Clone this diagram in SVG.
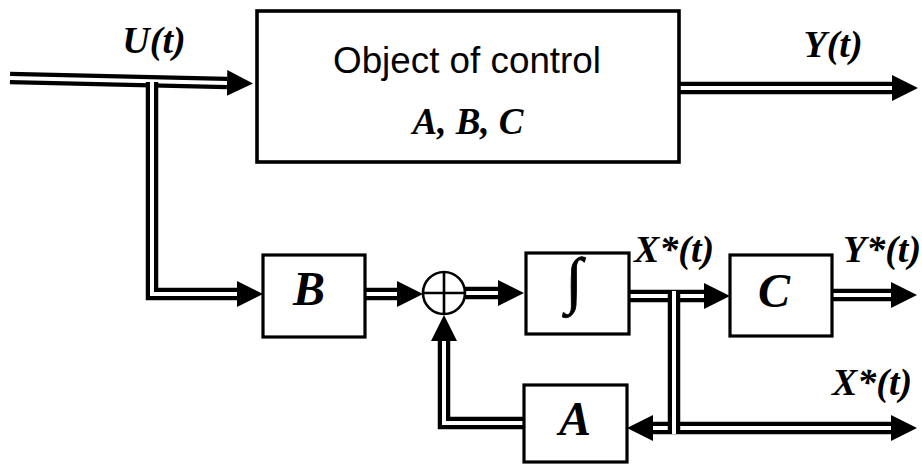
<svg xmlns="http://www.w3.org/2000/svg" width="922" height="468" viewBox="0 0 922 468">
<style>
.box{fill:#fff;stroke:#000;stroke-width:3.2}
.bigbox{fill:#fff;stroke:#000;stroke-width:3.6}
.o{fill:none;stroke:#000;stroke-width:12.5;stroke-linejoin:miter}
.i{fill:none;stroke:#fff;stroke-width:4;stroke-linejoin:miter}
.ae{marker-end:url(#ah)}
.as{marker-start:url(#ah)}
.m{font-family:"Liberation Serif","Times New Roman",serif;font-style:italic;font-weight:bold;fill:#000}
.lbl{font-size:38px}
.blk{font-size:48px;text-anchor:middle}
.sans{font-family:"Liberation Sans",Arial,sans-serif;fill:#000}
</style>
<defs>
<marker id="ah" markerUnits="userSpaceOnUse" markerWidth="26" markerHeight="26" refX="0" refY="13" orient="auto-start-reverse" viewBox="0 0 26 26">
<path d="M0,0 L26,13 L0,26 z" fill="#000"/>
</marker>
</defs>

<g id="connectors">
<g id="c-input"><path class="o ae" d="M10,78 L227,83"/><path class="i" d="M10,78 L227,83"/></g>
<g id="c-branch-b"><path class="o ae" d="M152,82 V294 H237"/><path class="i" d="M152,82 V294 H237"/></g>
<g id="c-y"><path class="o ae" d="M679,88 H892"/><path class="i" d="M679,88 H892"/></g>
<g id="c-b-sum"><path class="o ae" d="M365,294 H397"/><path class="i" d="M365,294 H397"/></g>
<g id="c-sum-int"><path class="o ae" d="M465,293 H498"/><path class="i" d="M465,293 H498"/></g>
<g id="c-int-c"><path class="o ae" d="M629,296 H704"/><path class="i" d="M629,296 H704"/></g>
<g id="c-c-out"><path class="o ae" d="M828,295 H891"/><path class="i" d="M828,295 H891"/></g>
<g id="c-xbus"><path class="o as ae" d="M653,428 H891"/><path class="i" d="M653,428 H891"/></g>
<g id="c-xbranch"><path class="o" d="M674,291 V434"/><path class="i" d="M674,291 V434"/></g>
<g id="c-feedback"><path class="o ae" d="M524,423 H444 V341"/><path class="i" d="M524,423 H444 V341"/></g>
</g>

<g id="object">
<rect class="bigbox" x="257" y="11" width="422" height="151"/>
<text class="sans" x="467" y="73" font-size="36" text-anchor="middle" textLength="268" lengthAdjust="spacingAndGlyphs">Object of control</text>
<text class="m" x="468" y="134" font-size="37" text-anchor="middle">A, B, C</text>
</g>

<g id="block-b">
<rect class="box" x="263" y="255" width="102" height="82"/>
<text class="m blk" x="309" y="305">B</text>
</g>

<g id="sum">
<circle cx="444" cy="293" r="21" fill="#fff" stroke="#000" stroke-width="2.6"/>
<path d="M423,293 H465 M444,272 V314" stroke="#000" stroke-width="2.6"/>
</g>

<g id="integrator">
<rect class="box" x="526" y="253" width="103" height="81"/>
<text x="574" y="301" font-family="Liberation Serif,serif" font-size="62" text-anchor="middle" stroke="#000" stroke-width="0.8">∫</text>
</g>

<g id="block-c">
<rect class="box" x="730" y="255" width="102" height="81"/>
<text class="m blk" x="774" y="307">C</text>
</g>

<g id="block-a">
<rect class="box" x="524" y="385" width="103" height="77"/>
<text class="m blk" x="575" y="435">A</text>
</g>

<g id="labels">
<text class="m lbl" x="154" y="53" text-anchor="middle">U(t)</text>
<text class="m lbl" x="833" y="57" text-anchor="middle">Y(t)</text>
<text class="m lbl" x="674" y="262" text-anchor="middle">X*(t)</text>
<text class="m lbl" x="882" y="262" text-anchor="middle">Y*(t)</text>
<text class="m lbl" x="872" y="395" text-anchor="middle">X*(t)</text>
</g>
</svg>
